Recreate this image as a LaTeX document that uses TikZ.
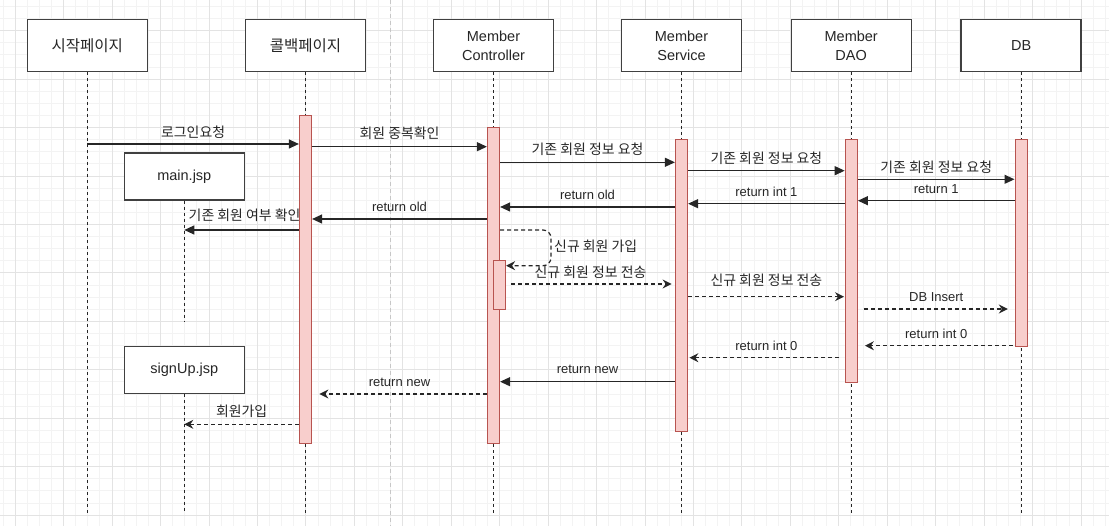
\documentclass[tikz,border=0pt]{standalone}
\usepackage{fontspec}
\setmainfont{Liberation Sans}
\newfontfamily\kr[Scale=1.07]{Noto Sans CJK KR}
\usepackage{xcolor}
\usetikzlibrary{arrows.meta}
\definecolor{barfill}{HTML}{F8CECC}
\definecolor{barline}{HTML}{B85450}
\definecolor{gridminor}{HTML}{F3F3F3}
\definecolor{gridmajor}{HTML}{E3E3E3}

\begin{document}
\begin{tikzpicture}[x=1pt,y=-1pt,
    actor/.style={draw=black!75, line width=1.3pt, fill=white, text=black!85,
      minimum width=120pt, minimum height=52pt, inner sep=0pt, align=center,
      font=\fontsize{14.5}{18.5}\selectfont},
    jsp/.style={actor, minimum height=47pt},
    life/.style={draw=black!85, line width=1.2pt, dash pattern=on 3pt off 3pt},
    bar/.style={draw=barline, fill=barfill, line width=1.2pt, minimum width=12pt,
      inner sep=0pt, anchor=north},
    msg/.style={line width=1.2pt, draw=black!85, -{Triangle[length=10pt,width=9pt]}},
    rmsg/.style={line width=1.2pt, draw=black!85, dash pattern=on 4pt off 3pt,
      -{Stealth[length=9pt,width=9pt,inset=3pt]}},
    lbl/.style={font=\fontsize{13}{15}\selectfont, text=black!85, inner sep=0pt,
      midway, yshift=12pt},
  ]
  \useasboundingbox (0,0) rectangle (1109,526);

  % canvas grid
  \begin{scope}
    \clip (0,0) rectangle (1109,526);
    \foreach \i in {0,...,92}
      \draw[gridminor, line width=1pt] ({3.09+12.1125*\i},0) -- ++(0,526);
    \foreach \j in {0,...,44}
      \draw[gridminor, line width=1pt] (0,{6.47+12.1125*\j}) -- ++(1109,0);
    \foreach \i in {0,...,23}
      \draw[gridmajor, line width=1pt] ({15.2+48.45*\i},0) -- ++(0,526);
    \foreach \j in {0,...,10}
      \draw[gridmajor, line width=1pt] (0,{30.7+48.45*\j}) -- ++(1109,0);
  \end{scope}
  \draw[black!22, line width=1pt, dash pattern=on 4pt off 3pt] (390.7,0) -- (390.7,526);

  % participants
  \node[actor] (start) at (87.3,45.7) {\kr 시작페이지};
  \node[actor] (callback) at (305.5,45.7) {\kr 콜백페이지};
  \node[actor] (ctl) at (493.5,45.7) {Member\\Controller};
  \node[actor] (svc) at (681.5,45.7) {Member\\Service};
  \node[actor] (dao) at (851.2,45.7) {Member\\DAO};
  \node[actor] (db) at (1021.1,45.7) {DB};

  \node[jsp] (mainjsp) at (184.3,176.5) {main.jsp};
  \node[jsp] (signup) at (184.3,369.7) {signUp.jsp};

  % lifelines
  \foreach \p in {start,callback,ctl,svc,dao,db}
    \draw[life] (\p.south) -- (\p.south |- 0,513);
  \draw[life] (mainjsp.south) -- (mainjsp.south |- 0,320.7);
  \draw[life] (signup.south) -- (signup.south |- 0,513);

  % activations
  \node[bar, minimum height=328pt] (cbbar) at (305.5,114.7) {};
  \node[bar, minimum height=315.4pt] (ctlbar) at (493.5,127.3) {};
  \node[bar, minimum height=48.7pt] (subbar) at (499.5,260.3) {};
  \node[bar, minimum height=291.7pt] (svcbar) at (681.5,139) {};
  \node[bar, minimum height=243.3pt] (daobar) at (851.3,139) {};
  \node[bar, minimum height=206.7pt] (dbbar) at (1021.1,139) {};

  % login check
  \draw[msg] (start.south |- 0,144) -- (cbbar.west |- 0,144)
    node[lbl] {\kr 로그인요청};
  \draw[msg] (cbbar.east |- 0,146.7) -- (ctlbar.west |- 0,146.7)
    node[lbl, yshift=1pt] {\kr 회원 중복확인};
  \draw[msg] (ctlbar.east |- 0,162.3) -- (svcbar.west |- 0,162.3)
    node[lbl, yshift=1pt] {\kr 기존 회원 정보 요청};
  \draw[msg] (svcbar.east |- 0,170.7) -- (daobar.west |- 0,170.7)
    node[lbl] {\kr 기존 회원 정보 요청};
  \draw[msg] (daobar.east |- 0,179.3) -- (dbbar.west |- 0,179.3)
    node[lbl] {\kr 기존 회원 정보 요청};
  \draw[msg] (dbbar.west |- 0,200.7) -- (daobar.east |- 0,200.7)
    node[lbl] {return 1};
  \draw[msg] (daobar.west |- 0,203.7) -- (svcbar.east |- 0,203.7)
    node[lbl] {return int 1};
  \draw[msg] (svcbar.west |- 0,207) -- (ctlbar.east |- 0,207)
    node[lbl] {return old};
  \draw[msg] (ctlbar.west |- 0,219) -- (cbbar.east |- 0,219)
    node[lbl] {return old};
  \draw[msg] (cbbar.west |- 0,230) -- (mainjsp.south |- 0,230)
    node[lbl, yshift=3pt, xshift=3pt] {\kr 기존 회원 여부 확인};

  % sign up
  \draw[rmsg, rounded corners=8pt] (ctlbar.east |- 0,230) -- (551,230)
    -- (551,265.7) -- (subbar.east |- 0,265.7);
  \node[font=\fontsize{13}{15}\selectfont, text=black!85, inner sep=0pt, anchor=west]
    (selflbl) at (554,246.7) {\kr 신규 회원 가입};
  \draw[rmsg, shorten <=5pt, shorten >=3.3pt] (subbar.east |- 0,284) -- (svcbar.west |- 0,284)
    node[lbl] {\kr 신규 회원 정보 전송};
  \draw[rmsg, shorten >=0.7pt] (svcbar.east |- 0,296.7) -- (daobar.west |- 0,296.7)
    node[lbl, yshift=4.7pt] {\kr 신규 회원 정보 전송};
  \draw[rmsg, shorten <=6pt, shorten >=6.7pt] (daobar.east |- 0,309) -- (dbbar.west |- 0,309)
    node[lbl] {DB Insert};
  \draw[rmsg, shorten <=1.7pt, shorten >=7pt] (dbbar.west |- 0,345.7) -- (daobar.east |- 0,345.7)
    node[lbl] {return int 0};
  \draw[rmsg, shorten <=5.7pt, shorten >=1.3pt] (daobar.west |- 0,357.7) -- (svcbar.east |- 0,357.7)
    node[lbl] {return int 0};
  \draw[msg] (svcbar.west |- 0,381.7) -- (ctlbar.east |- 0,381.7)
    node[lbl] {return new};
  \draw[rmsg, shorten >=7.3pt] (ctlbar.west |- 0,394) -- (cbbar.east |- 0,394)
    node[lbl] {return new};
  \draw[rmsg] (cbbar.west |- 0,424.3) -- (signup.south |- 0,424.3)
    node[lbl, yshift=1.3pt] {\kr 회원가입};
\end{tikzpicture}
\end{document}
